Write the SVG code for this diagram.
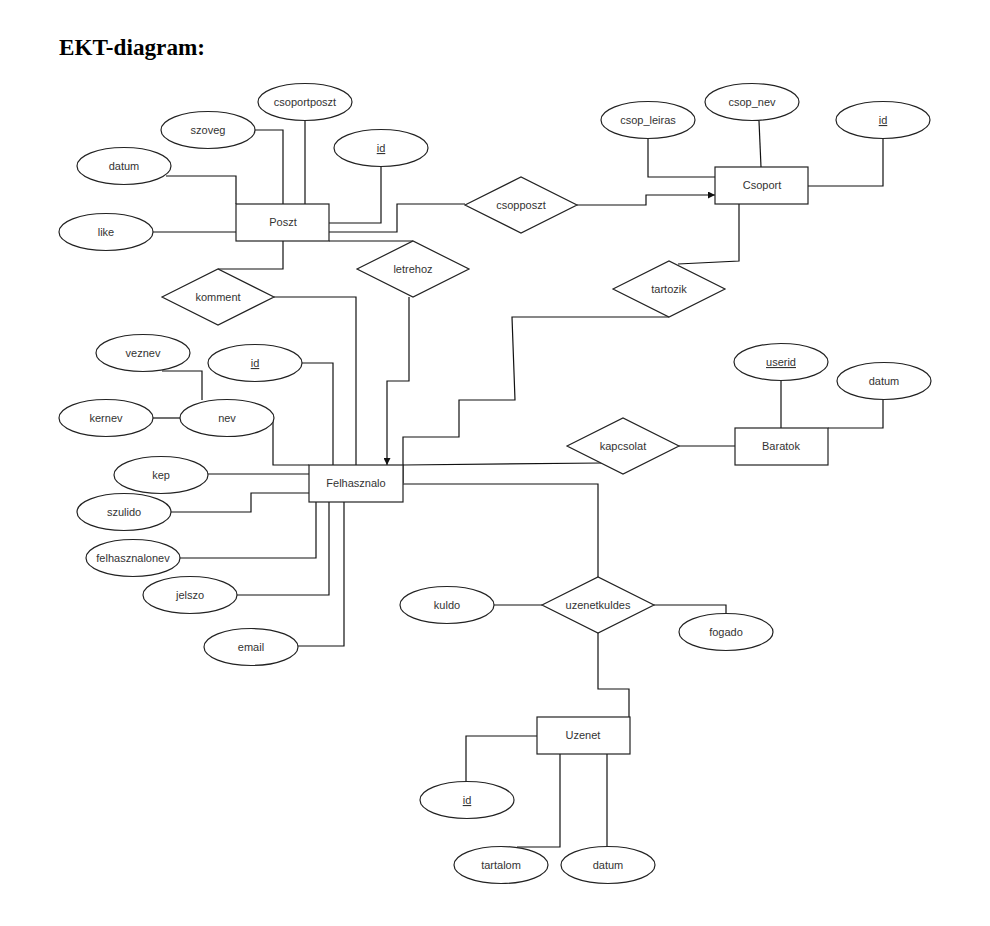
<svg xmlns="http://www.w3.org/2000/svg" width="990" height="926" viewBox="0 0 990 926">
<defs>
<style>
.ent{fill:#fff;stroke:#222;stroke-width:1.2}
.rel{fill:#fff;stroke:#222;stroke-width:1.2}
.att{fill:#fff;stroke:#222;stroke-width:1.2}
.lbl{font-family:"Liberation Sans",Arial,sans-serif;font-size:11px;fill:#333;text-anchor:middle}
.key{text-decoration:underline}
.con{fill:none;stroke:#111;stroke-width:1.2}
.title{font-family:"Liberation Serif","Times New Roman",serif;font-size:23.2px;font-weight:bold;fill:#000}
</style>
<marker id="arr" viewBox="0 0 10 10" refX="10" refY="5" markerWidth="7" markerHeight="7" markerUnits="userSpaceOnUse" orient="auto">
<path d="M0,0 L10,5 L0,10 z" fill="#111"/>
</marker>
</defs>
<rect width="990" height="926" fill="#fff"/>
<text class="title" x="59" y="55">EKT-diagram:</text>

<g id="connectors">
<path class="con" d="M166,176 H236 V204"/>
<path class="con" d="M255,130 H283 V204"/>
<path class="con" d="M305,120 V204"/>
<path class="con" d="M381,167 V223 H329"/>
<path class="con" d="M153,232 H236"/>
<path class="con" d="M329,232 H397 V204 H465"/>
<path class="con" d="M577,205 H646 V195 H715" marker-end="url(#arr)"/>
<path class="con" d="M283,241 V269 H218"/>
<path class="con" d="M329,241 H413"/>
<path class="con" d="M274,297 H356 V465"/>
<path class="con" d="M409,297 V381 H387 V465" marker-end="url(#arr)"/>
<path class="con" d="M648,138 V177 H715"/>
<path class="con" d="M759,121 L761,167"/>
<path class="con" d="M883,138 V186 H808"/>
<path class="con" d="M739,204 V261 L678,264"/>
<path class="con" d="M669,317 H512 L515,400 H459 V437 H403 V483"/>
<path class="con" d="M162,371 H202 V400"/>
<path class="con" d="M153,418 H180"/>
<path class="con" d="M273,416 V465 H309"/>
<path class="con" d="M302,363 H333 V465"/>
<path class="con" d="M208,474 H309"/>
<path class="con" d="M171,512 H251 V493 H309"/>
<path class="con" d="M179,558 H316 V502"/>
<path class="con" d="M237,595 H329 V502"/>
<path class="con" d="M298,646 H344 V502"/>
<path class="con" d="M403,465 L602,463"/>
<path class="con" d="M679,446 H735"/>
<path class="con" d="M781,380 V428"/>
<path class="con" d="M883,399 V428 H828"/>
<path class="con" d="M403,484 H598 V577"/>
<path class="con" d="M494,605 H542"/>
<path class="con" d="M654,605 H726 V614"/>
<path class="con" d="M598,633 V689 H629 V717"/>
<path class="con" d="M537,736 H466 V782"/>
<path class="con" d="M560,754 V847 H517"/>
<path class="con" d="M607,754 V847"/>
</g>

<g id="poszt"><rect class="ent" x="236" y="204" width="93" height="37"/><text class="lbl" x="283" y="226">Poszt</text></g>
<g id="csoport"><rect class="ent" x="715" y="167" width="93" height="37"/><text class="lbl" x="762" y="189">Csoport</text></g>
<g id="felhasznalo"><rect class="ent" x="309" y="465" width="94" height="37"/><text class="lbl" x="356" y="487">Felhasznalo</text></g>
<g id="baratok"><rect class="ent" x="735" y="428" width="93" height="37"/><text class="lbl" x="781" y="450">Baratok</text></g>
<g id="uzenet"><rect class="ent" x="537" y="717" width="93" height="37"/><text class="lbl" x="583" y="739">Uzenet</text></g>

<g id="csopposzt"><polygon class="rel" points="465,205 521,177 577,205 521,233"/><text class="lbl" x="521" y="209">csopposzt</text></g>
<g id="komment"><polygon class="rel" points="162,297 218,269 274,297 218,325"/><text class="lbl" x="218" y="301">komment</text></g>
<g id="letrehoz"><polygon class="rel" points="357,269 413,241 469,269 413,297"/><text class="lbl" x="413" y="273">letrehoz</text></g>
<g id="tartozik"><polygon class="rel" points="613,289 669,261 725,289 669,317"/><text class="lbl" x="669" y="293">tartozik</text></g>
<g id="kapcsolat"><polygon class="rel" points="567,446 623,418 679,446 623,474"/><text class="lbl" x="623" y="450">kapcsolat</text></g>
<g id="uzenetkuldes"><polygon class="rel" points="542,605 598,577 654,605 598,633"/><text class="lbl" x="598" y="609">uzenetkuldes</text></g>

<g id="a-csoportposzt"><ellipse class="att" cx="305" cy="102" rx="47" ry="18.5"/><text class="lbl" x="305" y="106">csoportposzt</text></g>
<g id="a-szoveg"><ellipse class="att" cx="208" cy="130" rx="47" ry="18.5"/><text class="lbl" x="208" y="134">szoveg</text></g>
<g id="a-poszt-id"><ellipse class="att" cx="381" cy="148" rx="47" ry="18.5"/><text class="lbl key" x="381" y="152">id</text></g>
<g id="a-poszt-datum"><ellipse class="att" cx="124" cy="166" rx="47" ry="18.5"/><text class="lbl" x="124" y="170">datum</text></g>
<g id="a-like"><ellipse class="att" cx="106" cy="232" rx="47" ry="18.5"/><text class="lbl" x="106" y="236">like</text></g>
<g id="a-csop-leiras"><ellipse class="att" cx="648" cy="120" rx="47" ry="18.5"/><text class="lbl" x="648" y="124">csop_leiras</text></g>
<g id="a-csop-nev"><ellipse class="att" cx="752" cy="102" rx="47" ry="18.5"/><text class="lbl" x="752" y="106">csop_nev</text></g>
<g id="a-csoport-id"><ellipse class="att" cx="883" cy="120" rx="47" ry="18.5"/><text class="lbl key" x="883" y="124">id</text></g>
<g id="a-veznev"><ellipse class="att" cx="143" cy="353" rx="47" ry="18.5"/><text class="lbl" x="143" y="357">veznev</text></g>
<g id="a-felh-id"><ellipse class="att" cx="255" cy="363" rx="47" ry="18.5"/><text class="lbl key" x="255" y="367">id</text></g>
<g id="a-kernev"><ellipse class="att" cx="106" cy="418" rx="47" ry="18.5"/><text class="lbl" x="106" y="422">kernev</text></g>
<g id="a-nev"><ellipse class="att" cx="227" cy="418" rx="47" ry="18.5"/><text class="lbl" x="227" y="422">nev</text></g>
<g id="a-kep"><ellipse class="att" cx="161" cy="475" rx="47" ry="18.5"/><text class="lbl" x="161" y="479">kep</text></g>
<g id="a-szulido"><ellipse class="att" cx="124" cy="512" rx="47" ry="18.5"/><text class="lbl" x="124" y="516">szulido</text></g>
<g id="a-felhasznalonev"><ellipse class="att" cx="133" cy="558" rx="47" ry="18.5"/><text class="lbl" x="133" y="562">felhasznalonev</text></g>
<g id="a-jelszo"><ellipse class="att" cx="190" cy="595" rx="47" ry="18.5"/><text class="lbl" x="190" y="599">jelszo</text></g>
<g id="a-email"><ellipse class="att" cx="251" cy="647" rx="47" ry="18.5"/><text class="lbl" x="251" y="651">email</text></g>
<g id="a-userid"><ellipse class="att" cx="781" cy="362" rx="47" ry="18.5"/><text class="lbl key" x="781" y="366">userid</text></g>
<g id="a-baratok-datum"><ellipse class="att" cx="884" cy="381" rx="47" ry="18.5"/><text class="lbl" x="884" y="385">datum</text></g>
<g id="a-kuldo"><ellipse class="att" cx="447" cy="605" rx="47" ry="18.5"/><text class="lbl" x="447" y="609">kuldo</text></g>
<g id="a-fogado"><ellipse class="att" cx="726" cy="632" rx="47" ry="18.5"/><text class="lbl" x="726" y="636">fogado</text></g>
<g id="a-uzenet-id"><ellipse class="att" cx="467" cy="800" rx="47" ry="18.5"/><text class="lbl key" x="467" y="804">id</text></g>
<g id="a-tartalom"><ellipse class="att" cx="501" cy="865" rx="47" ry="18.5"/><text class="lbl" x="501" y="869">tartalom</text></g>
<g id="a-uzenet-datum"><ellipse class="att" cx="608" cy="865" rx="47" ry="18.5"/><text class="lbl" x="608" y="869">datum</text></g>
</svg>
